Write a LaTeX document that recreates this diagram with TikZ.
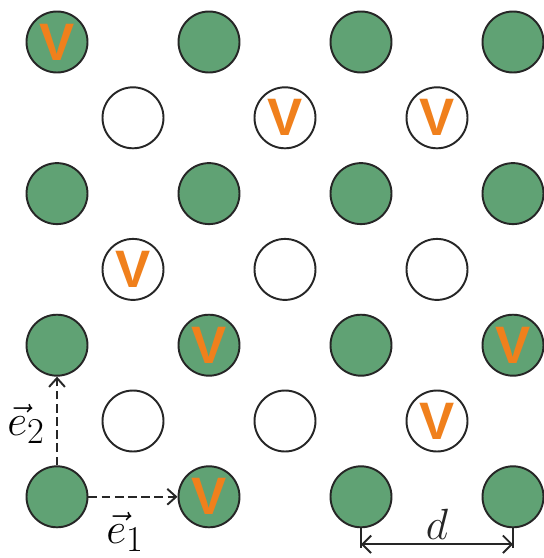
\documentclass[tikz,border=0pt]{standalone}
\usepackage{fontspec}
\newfontfamily\vfont{Liberation Sans}
\usetikzlibrary{arrows.meta}
\definecolor{siteGreen}{RGB}{96,162,116}
\definecolor{vOrange}{RGB}{240,128,28}
\tikzset{
  site/.style={circle,draw=black!85,line width=1.1pt,minimum size=1.22cm,inner sep=0pt},
  gsite/.style={site,fill=siteGreen},
  wsite/.style={site,fill=white},
  vac/.style={font=\vfont\bfseries\fontsize{30}{30}\selectfont,text=vOrange},
  basis/.style={-{Straight Barb[length=5pt,width=9pt]},line width=1.1pt,dash pattern=on 5pt off 2.5pt,black!85},
  lbl/.style={font=\fontsize{28}{30}\selectfont}
}
\begin{document}
\begin{tikzpicture}[x=0.02cm,y=-0.02cm]
    \useasboundingbox (0,0) rectangle (544,558);
    % gruene Plaetze
    \foreach \i in {0,...,3}
      \foreach \j in {0,2,4,6}
        \node[gsite] (g-\i-\j) at (57+152*\i,42+75.8*\j) {};
    % weisse Plaetze
    \foreach \i in {0,1,2}
      \foreach \j in {1,3,5}
        \node[wsite] (w-\i-\j) at (133+152*\i,42+75.8*\j) {};

    % Leerstellen
    \foreach \n in {g-0-0,w-1-1,w-2-1,w-0-3,g-1-4,g-3-4,w-2-5,g-1-6}
      \node[vac] at (\n) {V};

    % Basisvektoren
    \draw[basis] (g-0-6.east) -- (g-1-6.west);
    \draw[basis] (g-0-6.north) -- (g-0-4.south);
    \node[lbl] at (125,532) {$\vec{e}_1$};
    \node[lbl] at (26,424) {$\vec{e}_2$};

    % Abstand d
    \coordinate (dl) at ([yshift=-0.4cm]g-2-6.south);
    \coordinate (dr) at ([yshift=-0.4cm]g-3-6.south);
    \draw[line width=1.1pt,black!85] (g-2-6.south) -- (dl);
    \draw[line width=1.1pt,black!85] (g-3-6.south) -- (dr);
    \draw[{Straight Barb[length=5pt,width=10pt]}-{Straight Barb[length=5pt,width=10pt]},line width=1.1pt,black!85]
      ([yshift=0.08cm]dl) -- node[lbl,above=-1pt] {$d$} ([yshift=0.08cm]dr);
\end{tikzpicture}
\end{document}
